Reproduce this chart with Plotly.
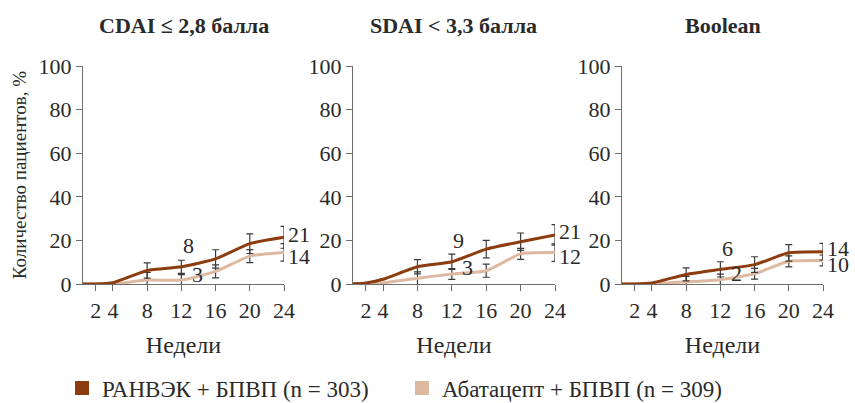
import plotly.graph_objects as go

# ---------------- data ----------------
weeks = [0, 2, 4, 8, 12, 16, 20, 24]
x_ticks = [2, 4, 8, 12, 16, 20, 24]
y_ticks = [0, 20, 40, 60, 80, 100]

panel_titles = ["CDAI ≤ 2,8 балла", "SDAI < 3,3 балла", "Boolean"]
series_names = ["РАНВЭК + БПВП (n = 303)", "Абатацепт + БПВП (n = 309)"]

cdai_ranvek = [0, 0, 0.6, 6.2, 7.9, 11.5, 18.5, 21.4]
cdai_ranvek_err = [None, None, None, 3.5, 3.0, 4.2, 4.5, 5.0]
cdai_abat = [0, 0, 0, 1.8, 1.8, 5.8, 12.8, 14.5]
cdai_abat_err = [None, None, None, 3.5, 2.5, 3.0, 3.0, 4.0]

sdai_ranvek = [0, 0.5, 2.2, 7.9, 10.2, 16.0, 19.4, 22.5]
sdai_ranvek_err = [None, None, None, 3.3, 3.5, 4.0, 4.0, 4.7]
sdai_abat = [0, 0, 0.5, 2.6, 4.6, 6.1, 13.8, 14.4]
sdai_abat_err = [None, None, None, 3.0, 2.5, 3.0, 2.5, 4.0]

bool_ranvek = [0, 0, 0.5, 4.4, 6.7, 8.9, 14.3, 14.8]
bool_ranvek_err = [None, None, None, 3.0, 3.5, 3.6, 3.8, 3.8]
bool_abat = [0, 0, 0, 1.0, 2.0, 4.7, 10.4, 10.8]
bool_abat_err = [None, None, None, 2.5, 2.5, 2.5, 2.5, 2.5]

# labels shown on the chart (week 12 and week 24 values)
labels_w12 = [("8", "3"), ("9", "3"), ("6", "2")]
labels_w24 = [("21", "14"), ("21", "12"), ("14", "10")]

panels = [
    (cdai_ranvek, cdai_ranvek_err, cdai_abat, cdai_abat_err),
    (sdai_ranvek, sdai_ranvek_err, sdai_abat, sdai_abat_err),
    (bool_ranvek, bool_ranvek_err, bool_abat, bool_abat_err),
]

# ---------------- style ----------------
W, H = 855, 403
DARK = "#8B3D0F"
LIGHT = "#DEB9A1"
ERR = "#3a3a3a"
AXIS = "#6e6e6e"
TXT = "#2a2a2a"
FONT = "'Liberation Serif', 'Times New Roman', 'DejaVu Serif', serif"

x_dom = [(83 / W, 284 / W), (353 / W, 555 / W), (622 / W, 823 / W)]
y_dom = (119 / H, 337 / H)

fig = go.Figure()

annotations = []
for i, (rv, re, av, ae) in enumerate(panels):
    sfx = "" if i == 0 else str(i + 1)
    xa, ya = "x" + sfx, "y" + sfx
    fig.add_trace(go.Scatter(
        x=weeks, y=av, xaxis=xa, yaxis=ya, mode="lines",
        line=dict(color=LIGHT, width=3, shape="spline", smoothing=0.5),
        error_y=dict(type="data", array=ae, visible=True, color=ERR, thickness=1.2, width=3.5),
        showlegend=False, cliponaxis=False, hoverinfo="skip"))
    fig.add_trace(go.Scatter(
        x=weeks, y=rv, xaxis=xa, yaxis=ya, mode="lines",
        line=dict(color=DARK, width=3, shape="spline", smoothing=0.5),
        error_y=dict(type="data", array=re, visible=True, color=ERR, thickness=1.2, width=3.5),
        showlegend=False, cliponaxis=False, hoverinfo="skip"))

    ax = dict(domain=list(x_dom[i]), range=[0.5, 24], tickvals=x_ticks,
              ticks="outside", ticklen=6, tickwidth=1.2, tickcolor=AXIS,
              showline=True, linecolor=AXIS, linewidth=1.3, showgrid=False, zeroline=False,
              tickfont=dict(family=FONT, size=22, color=TXT),
              title=dict(text="Недели", font=dict(family=FONT, size=24, color=TXT), standoff=14),
              anchor=ya, fixedrange=True, automargin=False)
    ay = dict(domain=list(y_dom), range=[0, 100], tickvals=y_ticks,
              ticks="outside", ticklen=6, tickwidth=1.2, tickcolor=AXIS,
              showline=True, linecolor=AXIS, linewidth=1.3, showgrid=False, zeroline=False,
              tickfont=dict(family=FONT, size=22, color=TXT), ticklabelstandoff=0,
              anchor=xa, fixedrange=True, automargin=False)
    if i == 0:
        ay["title"] = dict(text="Количество пациентов, %", font=dict(family=FONT, size=19, color=TXT), standoff=6)
    fig.layout["xaxis" + sfx] = ax
    fig.layout["yaxis" + sfx] = ay

    # panel title
    cx = (x_dom[i][0] + x_dom[i][1]) / 2
    annotations.append(dict(text="<b>" + panel_titles[i] + "</b>", xref="paper", yref="paper",
                            x=cx, y=1 - 25 / H, xanchor="center", yanchor="middle", showarrow=False,
                            font=dict(family=FONT, size=22, color=TXT)))
    # value labels
    w12_idx = weeks.index(12)
    w24_idx = weeks.index(24)
    d12, l12 = labels_w12[i]
    d24, l24 = labels_w24[i]
    annotations += [
        dict(text=d12, xref=xa, yref=ya, x=12, y=rv[w12_idx], xshift=7, yshift=21,
             showarrow=False, font=dict(family=FONT, size=22, color=TXT)),
        dict(text=l12, xref=xa, yref=ya, x=12, y=av[w12_idx], xshift=16, yshift=6,
             showarrow=False, font=dict(family=FONT, size=22, color=TXT)),
        dict(text=d24, xref=xa, yref=ya, x=24, y=rv[w24_idx], xanchor="left", xshift=2, yshift=3,
             showarrow=False, font=dict(family=FONT, size=22, color=TXT)),
        dict(text=l24, xref=xa, yref=ya, x=24, y=av[w24_idx], xanchor="left", xshift=2, yshift=-4,
             showarrow=False, font=dict(family=FONT, size=22, color=TXT)),
    ]

# legend-only traces
for name, col in zip(series_names, [DARK, LIGHT]):
    fig.add_trace(go.Scatter(x=[None], y=[None], mode="markers", name=name,
                             marker=dict(symbol="square", size=14, color=col), showlegend=True))

fig.update_layout(
    width=W, height=H, margin=dict(l=0, r=0, t=0, b=0, autoexpand=False),
    paper_bgcolor="white", plot_bgcolor="white",
    font=dict(family=FONT, color=TXT),
    annotations=annotations,
    legend=dict(orientation="h", x=62 / W, y=1 - 388 / H, xanchor="left", yanchor="middle",
                font=dict(family=FONT, size=23, color=TXT), itemwidth=30, tracegroupgap=0,
                entrywidth=295, entrywidthmode="pixels",
                bgcolor="rgba(0,0,0,0)"),
)

fig.write_html("out.html", config={"displayModeBar": False},
               post_script="document.body.style.margin='0px';document.body.style.padding='0px';")
